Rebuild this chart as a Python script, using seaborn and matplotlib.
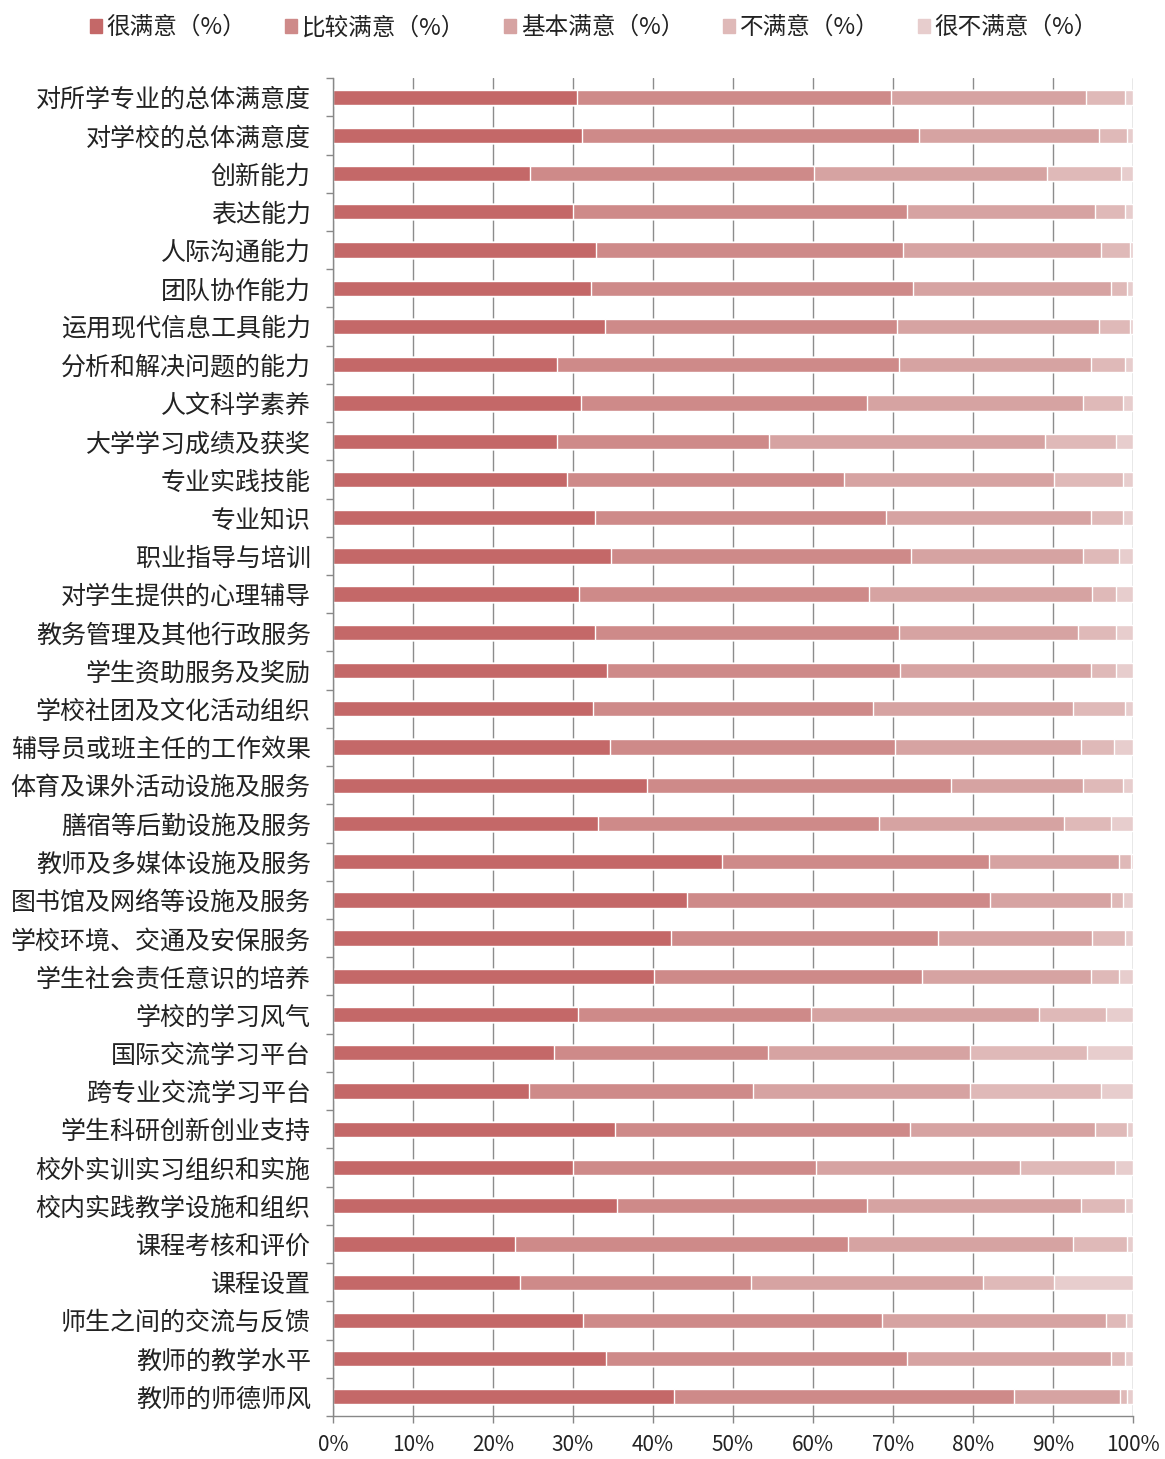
import numpy as np
import pandas as pd
import matplotlib
matplotlib.use('Agg')
import matplotlib.pyplot as plt
import matplotlib.patches as mpatches
import seaborn as sns

# Категории (сверху вниз)
items = ['对所学专业的总体满意度', '对学校的总体满意度', '创新能力', '表达能力', '人际沟通能力',
         '团队协作能力', '运用现代信息工具能力', '分析和解决问题的能力', '人文科学素养',
         '大学学习成绩及获奖', '专业实践技能', '专业知识', '职业指导与培训', '对学生提供的心理辅导',
         '教务管理及其他行政服务', '学生资助服务及奖励', '学校社团及文化活动组织',
         '辅导员或班主任的工作效果', '体育及课外活动设施及服务', '膳宿等后勤设施及服务',
         '教师及多媒体设施及服务', '图书馆及网络等设施及服务', '学校环境、交通及安保服务',
         '学生社会责任意识的培养', '学校的学习风气', '国际交流学习平台', '跨专业交流学习平台',
         '学生科研创新创业支持', '校外实训实习组织和实施', '校内实践教学设施和组织',
         '课程考核和评价', '课程设置', '师生之间的交流与反馈', '教师的教学水平', '教师的师德师风']

# Доли по уровням удовлетворённости (%)
very_satisfied = [30.5, 31.1, 24.6, 30.0, 32.9, 32.2, 34.0, 28.0, 31.0, 28.0, 29.2, 32.8,
                  34.7, 30.8, 32.8, 34.2, 32.5, 34.6, 39.2, 33.1, 48.6, 44.3, 42.2, 40.1,
                  30.6, 27.6, 24.5, 35.3, 30.0, 35.5, 22.8, 23.4, 31.3, 34.1, 42.6]
satisfied = [39.3, 42.1, 35.5, 41.7, 38.4, 40.3, 36.5, 42.7, 35.8, 26.5, 34.7, 36.3,
             37.6, 36.2, 37.9, 36.7, 35.0, 35.7, 38.0, 35.2, 33.4, 37.8, 33.4, 33.5,
             29.2, 26.8, 28.0, 36.8, 30.4, 31.3, 41.6, 28.8, 37.3, 37.6, 42.5]
basic = [24.3, 22.6, 29.1, 23.5, 24.7, 24.7, 25.3, 24.0, 27.0, 34.5, 26.2, 25.6,
         21.5, 27.9, 22.4, 23.9, 25.0, 23.2, 16.6, 23.1, 16.3, 15.1, 19.3, 21.1,
         28.4, 25.2, 27.1, 23.1, 25.5, 26.7, 28.1, 29.0, 28.0, 25.5, 13.3]
unsatisfied = [4.9, 3.4, 9.3, 3.8, 3.6, 2.0, 3.8, 4.3, 5.0, 8.9, 8.7, 4.1,
               4.5, 3.0, 4.8, 3.1, 6.5, 4.1, 5.0, 5.8, 1.4, 1.6, 4.1, 3.6,
               8.4, 14.7, 16.4, 4.1, 11.9, 5.5, 6.8, 8.9, 2.5, 1.8, 0.9]
very_unsatisfied = [1.0, 0.8, 1.5, 1.0, 0.4, 0.8, 0.4, 1.0, 1.2, 2.1, 1.2, 1.2,
                    1.7, 2.1, 2.1, 2.1, 1.0, 2.4, 1.2, 2.8, 0.3, 1.2, 1.0, 1.7,
                    3.4, 5.7, 4.0, 0.7, 2.2, 1.0, 0.7, 9.9, 0.9, 1.0, 0.7]

levels = ['很满意（%）', '比较满意（%）', '基本满意（%）', '不满意（%）', '很不满意（%）']
colors = ['#C46868', '#CE8A89', '#D6A3A2', '#DFB9B8', '#E7CDCD']

df = pd.DataFrame({'item': items,
                   levels[0]: very_satisfied, levels[1]: satisfied, levels[2]: basic,
                   levels[3]: unsatisfied, levels[4]: very_unsatisfied})
# Нормируем на 100% и считаем накопленные суммы для стека
vals = df[levels].values
vals = vals / vals.sum(axis=1, keepdims=True) * 100
cum = np.cumsum(vals, axis=1)

sns.set_theme(style='white')
plt.rcParams['font.family'] = ['Noto Sans CJK SC', 'DejaVu Sans']

fig = plt.figure(figsize=(11.65, 14.59), dpi=100)
ax = fig.add_axes([0.2858, 0.0295, 0.6867, 0.917])

# Рисуем от самого широкого накопленного столбца к самому узкому
for i in range(len(levels) - 1, -1, -1):
    sns.barplot(x=cum[:, i], y=df['item'], color=colors[i], width=0.4,
                orient='h', saturation=1, ax=ax, zorder=2)

ax.set_xlim(0, 100)
ax.set_ylim(len(items) - 0.5, -0.5)
ax.set_xticks(np.arange(0, 101, 10))
ax.set_xticklabels([f'{v}%' for v in range(0, 101, 10)], fontsize=15, color='#222222')
ax.set_xlabel('')
ax.set_ylabel('')
ax.tick_params(axis='y', which='major', length=0, pad=16, labelsize=18, labelcolor='#222222')
ax.set_yticks(np.arange(-0.5, len(items), 1), minor=True)
ax.tick_params(axis='y', which='minor', length=5, color='#888888', width=1, left=True)
ax.tick_params(axis='x', which='major', length=5, color='#888888', width=1, bottom=True, pad=8)

ax.set_axisbelow(True)
ax.grid(axis='x', color='#8c8c8c', linewidth=1)
ax.grid(axis='y', visible=False)
for s in ['top', 'right']:
    ax.spines[s].set_visible(False)
for s in ['left', 'bottom']:
    ax.spines[s].set_color('#888888')
    ax.spines[s].set_linewidth(1)

handles = [mpatches.Patch(color=c, label=l) for c, l in zip(colors, levels)]
fig.legend(handles=handles, loc='center', bbox_to_anchor=(0.51, 0.981), ncol=5,
           frameon=False, fontsize=17, handlelength=0.5, handleheight=0.5,
           handletextpad=0.2, columnspacing=1.65, labelcolor='#222222')

fig.savefig('out.png', dpi=100)
